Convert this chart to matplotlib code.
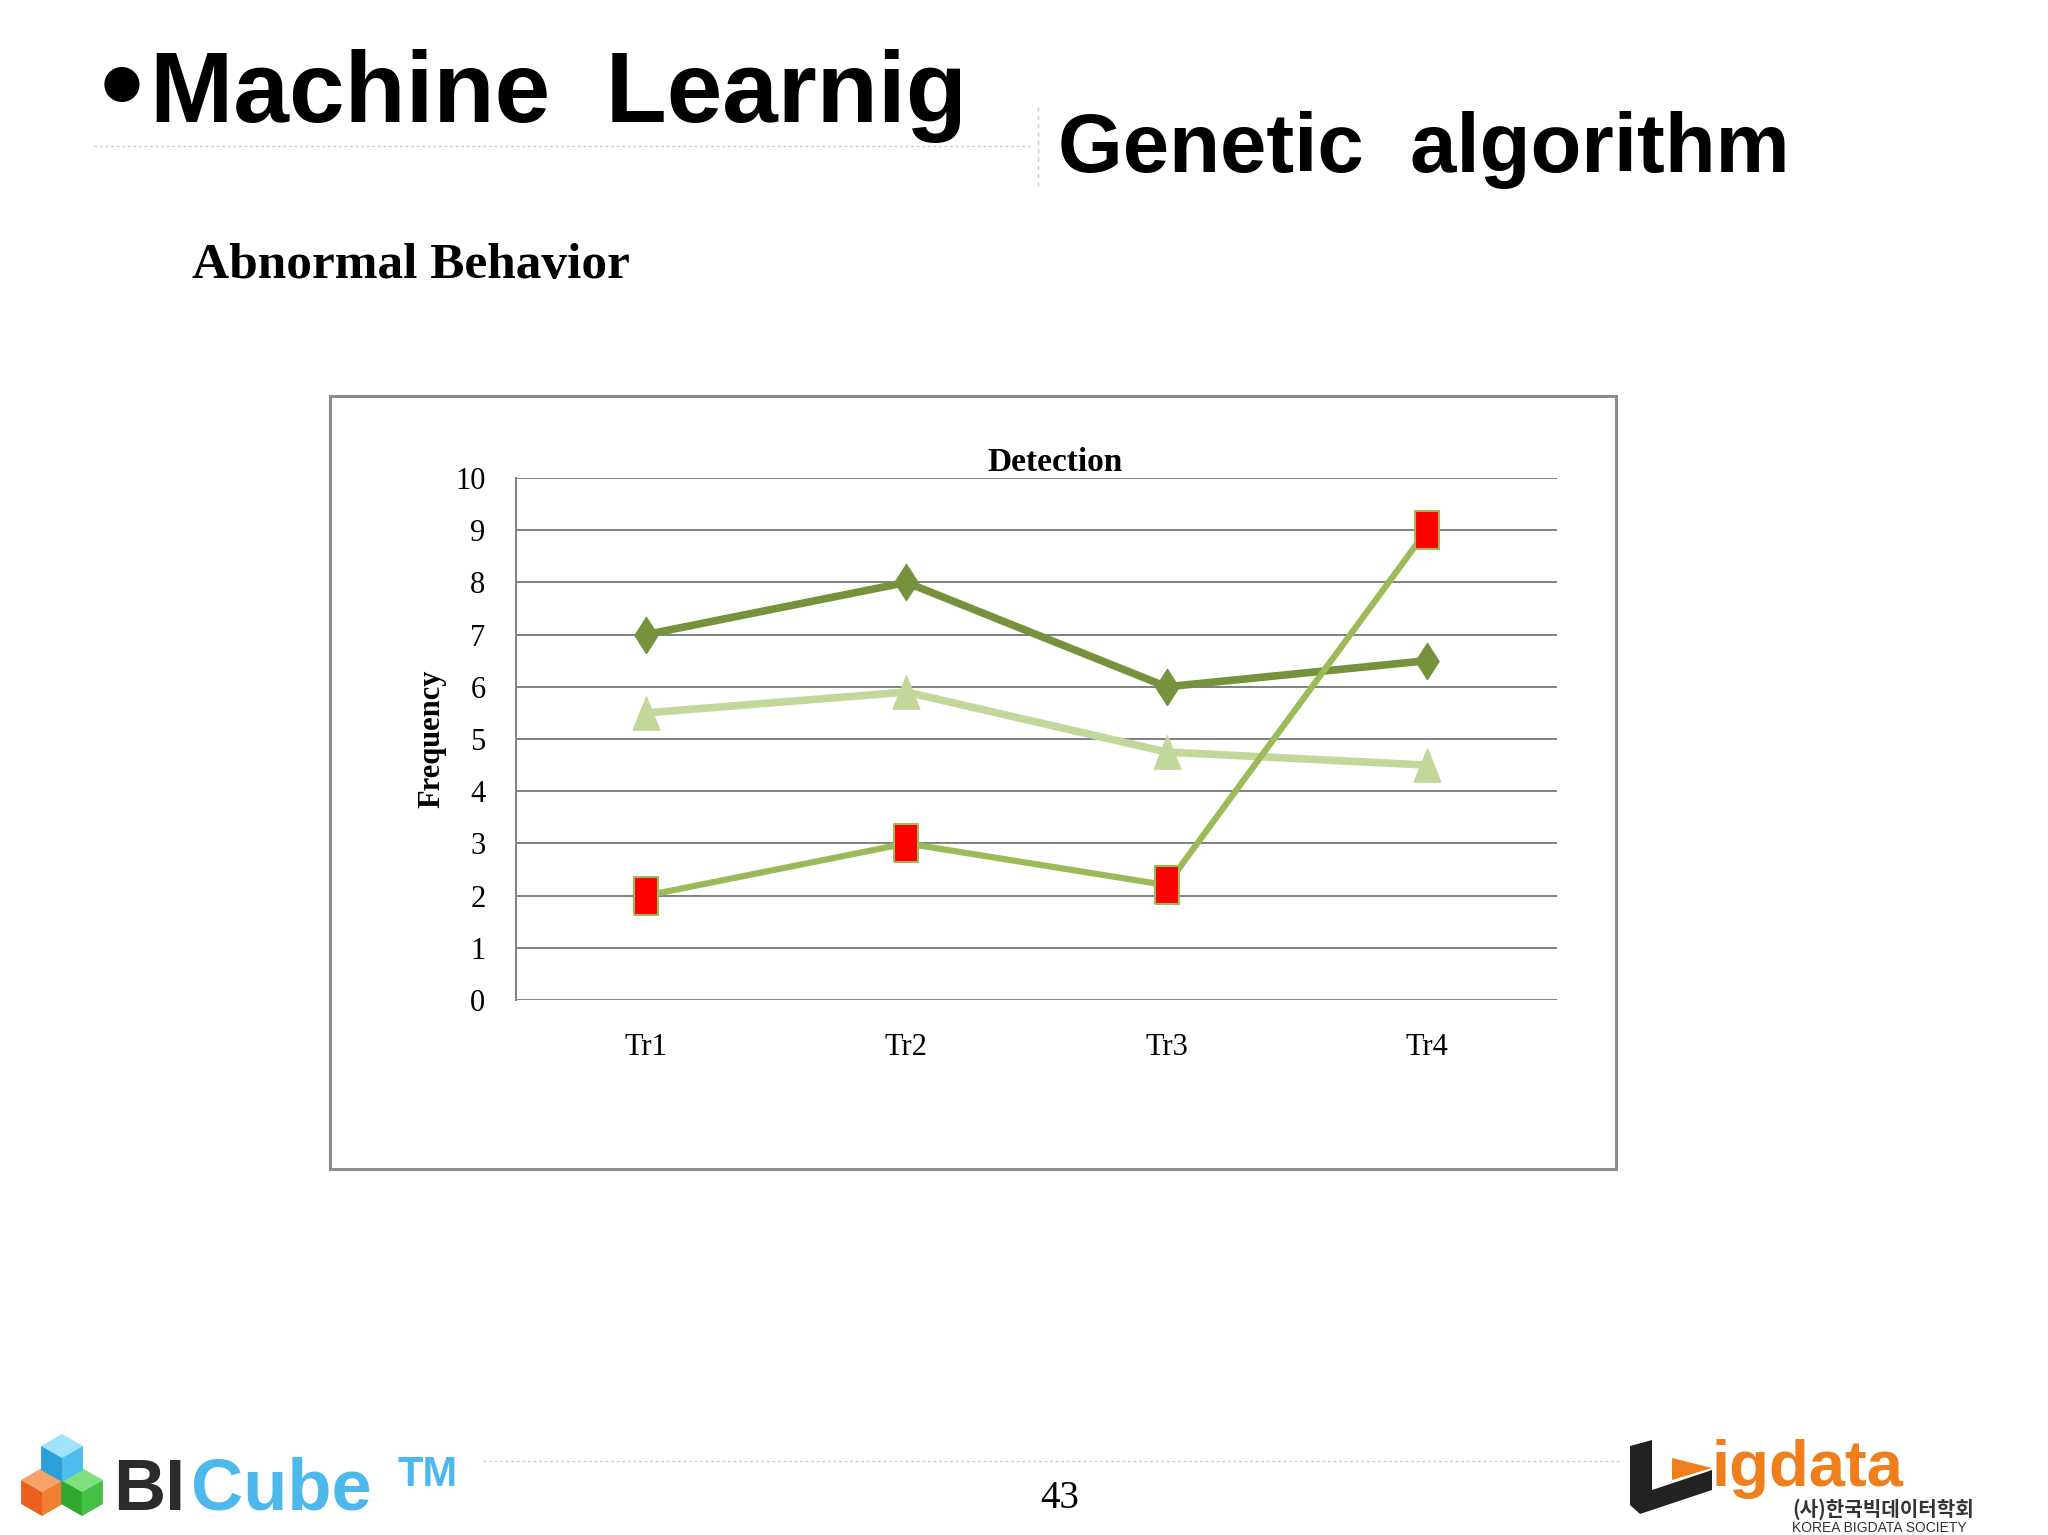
import matplotlib
matplotlib.use("Agg")
import matplotlib.pyplot as plt
from matplotlib.patches import Rectangle, Polygon
from matplotlib.lines import Line2D
import numpy as np

# ---- data ----
categories = ["Tr1", "Tr2", "Tr3", "Tr4"]
series_dark = [7, 8, 6, 6.5]
series_light = [5.5, 5.9, 4.75, 4.5]
series_red = [2, 3, 2.2, 9]
yticks = [0, 1, 2, 3, 4, 5, 6, 7, 8, 9, 10]

W, H = 2048, 1535
fig = plt.figure(figsize=(W / 100, H / 100), dpi=100)
fig.patch.set_facecolor("white")

def fx(px):
    return px / W

def fy(py):
    return 1 - py / H

heavy = ["Liberation Sans", "DejaVu Sans"]
serif = ["Liberation Serif", "DejaVu Serif"]

# ---- slide header ----
fig.text(fx(90), fy(122), "\u2022", fontsize=72, fontweight="bold", family=["DejaVu Sans"], va="baseline")
fig.text(fx(150), fy(122), "Machine  Learnig", fontsize=72, fontweight="bold",
         family=heavy, va="baseline")
fig.text(fx(1058), fy(172), "Genetic  algorithm", fontsize=60, fontweight="bold",
         family=heavy, va="baseline")
fig.add_artist(Line2D([fx(94), fx(1032)], [fy(146), fy(146)], color="#cccccc", lw=1, ls=(0, (2, 2))))
fig.add_artist(Line2D([fx(1038), fx(1038)], [fy(107), fy(190)], color="#cccccc", lw=1, ls=(0, (3, 3))))
fig.text(fx(192), fy(278), "Abnormal Behavior", fontsize=37, fontweight="bold",
         family=serif, va="baseline")

# ---- chart frame ----
fig.add_artist(Rectangle((fx(330), fy(1169)), fx(1616) - fx(330), fy(396) - fy(1169),
                         transform=fig.transFigure, fill=False, edgecolor="#8c8c8c", lw=2.2))

ax = fig.add_axes([fx(516), fy(1000), fx(1557) - fx(516), fy(478) - fy(1000)])
x = np.arange(len(categories))

ax.set_xlim(-0.5, len(categories) - 0.5)
ax.set_ylim(0, 10)
ax.set_yticks(yticks)
ax.set_xticks(x)
ax.set_xticklabels(categories)
for yv in yticks:
    ax.axhline(yv, color="#808080", lw=1.4, zorder=1)
for s in ["top", "right", "bottom"]:
    ax.spines[s].set_visible(False)
ax.spines["left"].set_color("#808080")
ax.spines["left"].set_linewidth(1.4)
ax.tick_params(axis="both", length=0, labelsize=22)
ax.tick_params(axis="y", pad=22)
ax.tick_params(axis="x", pad=24)
for lab in ax.get_xticklabels() + ax.get_yticklabels():
    lab.set_family(serif)

rect_marker = [(-0.33, -0.5), (0.33, -0.5), (0.33, 0.5), (-0.33, 0.5), (-0.33, -0.5)]
tri_marker = [(-0.4, -0.5), (0.4, -0.5), (0.0, 0.5), (-0.4, -0.5)]
diam_marker = [(0, -0.5), (0.32, 0), (0, 0.5), (-0.32, 0), (0, -0.5)]

ax.plot(x, series_light, color="#C4D79B", lw=5.5, marker=tri_marker, markersize=24,
        markerfacecolor="#C4D79B", markeredgecolor="#C4D79B", zorder=3)
ax.plot(x, series_dark, color="#76923C", lw=5.5, marker=diam_marker, markersize=26,
        markerfacecolor="#76923C", markeredgecolor="#76923C", zorder=4)
ax.plot(x, series_red, color="#9BBB59", lw=4.5, marker=rect_marker, markersize=27,
        markerfacecolor="#FF0000", markeredgecolor="#9BBB59", markeredgewidth=1.5, zorder=5)

ax.set_title("Detection", fontsize=24, fontweight="bold", family=serif, pad=2, x=0.518)
ax.set_ylabel("Frequency", fontsize=22, fontweight="bold", family=serif, labelpad=6)

# ---- footer ----
fig.add_artist(Line2D([fx(483), fx(1620)], [fy(1461), fy(1461)], color="#cccccc", lw=1, ls=(0, (2, 2))))
fig.text(fx(1060), fy(1498), "43", fontsize=28, family=serif, ha="center", va="center")

# BICube logo (decorative)
def cube(cx, cy, s, top, left, right):
    pts_top = [(cx, cy - s), (cx + s * 0.87, cy - s * 0.5), (cx, cy), (cx - s * 0.87, cy - s * 0.5)]
    pts_left = [(cx - s * 0.87, cy - s * 0.5), (cx, cy), (cx, cy + s), (cx - s * 0.87, cy + s * 0.5)]
    pts_right = [(cx, cy), (cx + s * 0.87, cy - s * 0.5), (cx + s * 0.87, cy + s * 0.5), (cx, cy + s)]
    for pts, c in [(pts_top, top), (pts_left, left), (pts_right, right)]:
        fig.add_artist(Polygon([(fx(a), fy(b)) for a, b in pts], closed=True,
                               transform=fig.transFigure, facecolor=c, edgecolor="none"))

cube(42, 1492, 24, "#F7A26A", "#E8601C", "#F08030")
cube(82, 1492, 24, "#7EE07E", "#2FA82F", "#45C045")
cube(62, 1458, 24, "#9FE3FA", "#2A9FD8", "#4DBDEB")

fig.text(fx(113), fy(1510), "BI", fontsize=52, fontweight="bold", color="#2b2b2b",
         family=heavy, va="baseline")
fig.text(fx(191), fy(1510), "Cube", fontsize=52, fontweight="bold", color="#4DB8EC",
         family=heavy, va="baseline")
fig.text(fx(398), fy(1486), "TM", fontsize=30, fontweight="bold", color="#4DB8EC",
         family=heavy, va="baseline")

# Bigdata logo (decorative)
fig.add_artist(Polygon([(fx(a), fy(b)) for a, b in
                        [(1630, 1446), (1652, 1440), (1652, 1490), (1712, 1470), (1712, 1490), (1640, 1514), (1630, 1505)]],
                       closed=True, transform=fig.transFigure, facecolor="#222222", edgecolor="none"))
fig.add_artist(Polygon([(fx(a), fy(b)) for a, b in [(1672, 1458), (1712, 1468), (1672, 1480)]],
                       closed=True, transform=fig.transFigure, facecolor="#F07F1B", edgecolor="none"))
fig.text(fx(1712), fy(1486), "igdata", fontsize=47, fontweight="bold", color="#F07F1B",
         family=heavy, va="baseline")
fig.text(fx(1792), fy(1516), "(사)한국빅데이터학회", fontsize=14.5, fontweight="bold", color="#333333",
         family=["Noto Sans CJK KR", "DejaVu Sans"], va="baseline")
fig.text(fx(1792), fy(1532), "KOREA BIGDATA SOCIETY", fontsize=10, color="#333333",
         family=heavy, va="baseline")

fig.savefig("out.png", dpi=100, facecolor="white")
